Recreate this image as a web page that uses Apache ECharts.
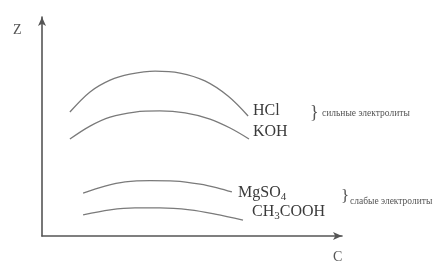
<!DOCTYPE html>
<html>
<head>
<meta charset="utf-8">
<script src="https://cdn.jsdelivr.net/npm/echarts@6/dist/echarts.min.js"></script>
<style>
  html, body { margin: 0; padding: 0; background: #fff; }
  #chart-container { width: 437px; height: 267px; }
</style>
</head>
<body>
<div id="chart-container"></div>
<script>
var dom = document.getElementById('chart-container');
var myChart = echarts.init(dom, null, { renderer: 'canvas' });

// curves (C, Z in arbitrary units)
var hcl = [[9.3, 56.6], [16, 65.8], [22.7, 71.2], [29.3, 73.9], [37.7, 75.3], [46, 74.4], [54.3, 70.8], [62, 63.9], [68.7, 54.8]];
var koh = [[9.3, 44.3], [16, 50.2], [22.7, 54.3], [31, 56.6], [39.3, 57.1], [47.7, 56.2], [56, 53.4], [62.7, 49.3], [69, 44.3]];
var mgso4 = [[13.7, 19.6], [21, 22.8], [27.7, 24.7], [36, 25.3], [44.3, 25.1], [52.7, 23.7], [58.7, 21.9], [63.3, 20.1]];
var ch3cooh = [[13.7, 9.6], [22.7, 11.9], [31, 12.8], [39.3, 12.8], [49.3, 11.9], [57.7, 10], [67, 7.3]];

var serif = '"Liberation Serif", "DejaVu Serif", serif';

function curve(name, data) {
  return {
    name: name,
    type: 'line',
    data: data,
    smooth: 0.35,
    symbol: 'none',
    lineStyle: { color: '#7a7a7a', width: 1.3 }
  };
}

var axisBase = {
  type: 'value',
  min: 0,
  max: 100,
  axisLine: {
    show: true,
    onZero: false,
    symbol: ['none', 'arrow'],
    symbolSize: [6, 9],
    lineStyle: { color: '#555', width: 1.6 }
  },
  axisTick: { show: false },
  axisLabel: { show: false },
  splitLine: { show: false }
};

var rich = { s: { font: '11px ' + serif, fill: '#3a3a3a', padding: [8, 0, 0, 0] } };

var option = {
  animation: false,
  grid: { left: 42, right: 95, top: 17, bottom: 31 },
  xAxis: axisBase,
  yAxis: axisBase,
  series: [
    curve('HCl', hcl),
    curve('KOH', koh),
    curve('MgSO4', mgso4),
    curve('CH3COOH', ch3cooh)
  ],
  graphic: [
    { type: 'text', left: 13, top: 23, style: { text: 'Z', font: '14px ' + serif, fill: '#555' } },
    { type: 'text', left: 333, top: 250, style: { text: 'C', font: '14px ' + serif, fill: '#555' } },
    { type: 'text', left: 253, top: 103, style: { text: 'HCl', font: '16px ' + serif, fill: '#3a3a3a' } },
    { type: 'text', left: 253, top: 124, style: { text: 'KOH', font: '16px ' + serif, fill: '#3a3a3a' } },
    { type: 'text', left: 238, top: 185, style: { text: 'MgSO{s|4}', font: '16px ' + serif, fill: '#3a3a3a', rich: rich } },
    { type: 'text', left: 252, top: 204, style: { text: 'CH{s|3}COOH', font: '16px ' + serif, fill: '#3a3a3a', rich: rich } },
    { type: 'text', left: 310, top: 104, style: { text: '}', font: '18px ' + serif, fill: '#555' } },
    { type: 'text', left: 322, top: 108, style: { text: 'сильные электролиты', font: '9.5px ' + serif, fill: '#555' } },
    { type: 'text', left: 341, top: 188, style: { text: '}', font: '17px ' + serif, fill: '#555' } },
    { type: 'text', left: 350, top: 196, style: { text: 'слабые электролиты', font: '9.5px ' + serif, fill: '#555' } }
  ]
};

myChart.setOption(option);
window.addEventListener('resize', myChart.resize);
</script>
</body>
</html>
